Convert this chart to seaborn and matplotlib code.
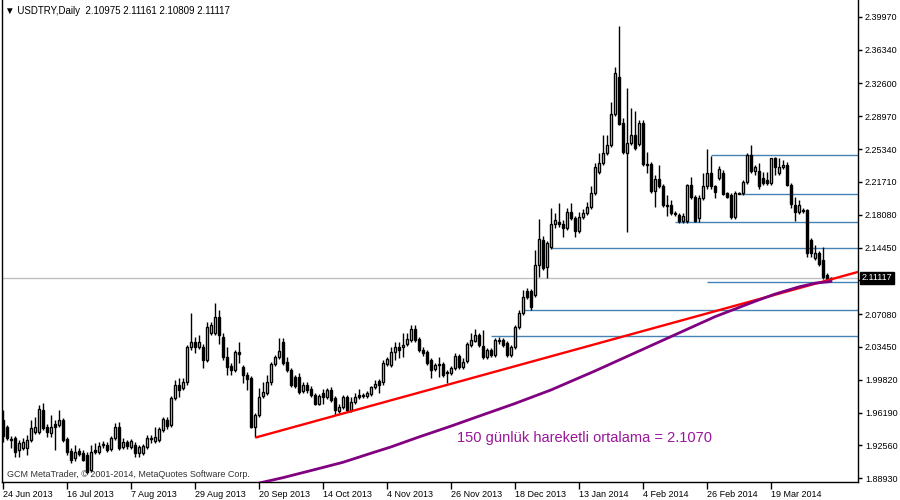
import matplotlib
matplotlib.use('Agg')
import matplotlib.pyplot as plt
import seaborn as sns
import numpy as np
import pandas as pd

sns.set_style('white')
plt.rcParams['font.family'] = ['Liberation Sans', 'DejaVu Sans']

# daily USDTRY candles, 24 Jun 2013 -> early Apr 2014
opens = [1.954, 1.946, 1.933, 1.934, 1.921, 1.923, 1.923, 1.932, 1.940, 1.940,
         1.965, 1.946, 1.939, 1.949, 1.948, 1.954, 1.933, 1.919, 1.912, 1.919,
         1.917, 1.915, 1.898, 1.921, 1.918, 1.926, 1.926, 1.922, 1.934, 1.946,
         1.924, 1.929, 1.924, 1.926, 1.917, 1.917, 1.924, 1.933, 1.930, 1.932,
         1.943, 1.954, 1.948, 1.978, 1.992, 1.989, 1.996, 2.035, 2.040, 2.035,
         2.035, 2.020, 2.050, 2.050, 2.068, 2.046, 2.023, 2.013, 2.009, 2.029,
         2.012, 2.004, 2.000, 1.946, 1.959, 1.980, 1.984, 1.996, 2.016, 2.023,
         2.040, 2.018, 2.009, 2.001, 2.001, 1.986, 1.992, 1.988, 1.981, 1.972,
         1.984, 1.979, 1.987, 1.978, 1.964, 1.968, 1.979, 1.965, 1.974, 1.981,
         1.981, 1.980, 1.982, 1.990, 1.997, 1.996, 2.016, 2.015, 2.029, 2.035,
         2.035, 2.038, 2.042, 2.054, 2.043, 2.031, 2.029, 2.020, 2.010, 2.015,
         2.016, 2.007, 2.006, 2.011, 2.025, 2.012, 2.019, 2.037, 2.041, 2.048,
         2.036, 2.023, 2.031, 2.026, 2.041, 2.042, 2.039, 2.026, 2.034, 2.057,
         2.072, 2.096, 2.096, 2.092, 2.125, 2.153, 2.123, 2.145, 2.171, 2.173,
         2.171, 2.166, 2.184, 2.177, 2.163, 2.178, 2.183, 2.189, 2.205, 2.228,
         2.238, 2.249, 2.258, 2.292, 2.333, 2.282, 2.249, 2.260, 2.269, 2.259,
         2.282, 2.237, 2.237, 2.207, 2.220, 2.213, 2.192, 2.192, 2.183, 2.181,
         2.174, 2.174, 2.214, 2.200, 2.177, 2.199, 2.212, 2.227, 2.212, 2.221,
         2.227, 2.205, 2.203, 2.178, 2.205, 2.205, 2.217, 2.247, 2.229, 2.229,
         2.221, 2.219, 2.216, 2.243, 2.227, 2.234, 2.236, 2.214, 2.192, 2.184,
         2.186, 2.186, 2.153, 2.133, 2.138, 2.131, 2.114, 2.10975]
highs = [1.965, 1.948, 1.936, 1.936, 1.932, 1.934, 1.937, 1.954, 1.957, 1.970,
         1.973, 1.949, 1.959, 1.954, 1.965, 1.956, 1.935, 1.923, 1.926, 1.923,
         1.921, 1.918, 1.926, 1.928, 1.929, 1.930, 1.929, 1.936, 1.950, 1.951,
         1.934, 1.932, 1.933, 1.929, 1.926, 1.927, 1.937, 1.937, 1.946, 1.946,
         1.957, 1.957, 1.980, 1.998, 2.000, 2.000, 2.037, 2.072, 2.046, 2.048,
         2.038, 2.062, 2.062, 2.083, 2.075, 2.050, 2.034, 2.017, 2.031, 2.040,
         2.015, 2.007, 2.002, 1.961, 1.989, 1.996, 2.004, 2.018, 2.026, 2.044,
         2.044, 2.023, 2.011, 2.004, 2.006, 1.996, 1.996, 1.991, 1.984, 1.982,
         1.988, 1.989, 1.990, 1.980, 1.972, 1.981, 1.981, 1.979, 1.984, 1.988,
         1.984, 1.986, 1.991, 1.998, 1.999, 2.020, 2.023, 2.034, 2.040, 2.040,
         2.050, 2.050, 2.059, 2.059, 2.046, 2.034, 2.031, 2.022, 2.017, 2.023,
         2.018, 2.009, 2.013, 2.028, 2.027, 2.022, 2.040, 2.050, 2.054, 2.050,
         2.053, 2.033, 2.033, 2.044, 2.046, 2.044, 2.041, 2.037, 2.059, 2.075,
         2.098, 2.100, 2.099, 2.142, 2.176, 2.157, 2.152, 2.188, 2.183, 2.194,
         2.175, 2.188, 2.194, 2.179, 2.184, 2.187, 2.195, 2.212, 2.238, 2.249,
         2.269, 2.269, 2.305, 2.344, 2.390, 2.288, 2.321, 2.299, 2.295, 2.286,
         2.285, 2.250, 2.239, 2.225, 2.236, 2.215, 2.203, 2.197, 2.185, 2.183,
         2.183, 2.215, 2.223, 2.203, 2.203, 2.227, 2.253, 2.246, 2.214, 2.235,
         2.230, 2.206, 2.205, 2.207, 2.206, 2.219, 2.249, 2.258, 2.236, 2.238,
         2.228, 2.228, 2.244, 2.245, 2.244, 2.241, 2.239, 2.216, 2.200, 2.197,
         2.188, 2.187, 2.155, 2.147, 2.141, 2.145, 2.116, 2.11161]
lows = [1.929, 1.932, 1.923, 1.913, 1.913, 1.921, 1.915, 1.929, 1.938, 1.938,
        1.943, 1.935, 1.935, 1.921, 1.946, 1.929, 1.915, 1.906, 1.908, 1.914,
        1.908, 1.894, 1.896, 1.916, 1.916, 1.923, 1.918, 1.919, 1.932, 1.921,
        1.922, 1.922, 1.922, 1.913, 1.913, 1.915, 1.922, 1.928, 1.928, 1.929,
        1.940, 1.944, 1.946, 1.976, 1.979, 1.987, 1.993, 2.031, 2.028, 2.032,
        2.011, 2.018, 2.048, 2.048, 2.038, 2.020, 2.004, 2.004, 2.007, 2.017,
        1.995, 1.987, 1.945, 1.935, 1.957, 1.978, 1.981, 1.993, 2.013, 2.021,
        2.015, 2.007, 1.990, 1.989, 1.982, 1.984, 1.984, 1.979, 1.970, 1.970,
        1.972, 1.977, 1.974, 1.959, 1.961, 1.966, 1.963, 1.963, 1.971, 1.977,
        1.978, 1.978, 1.980, 1.988, 1.984, 1.993, 2.013, 2.012, 2.020, 2.022,
        2.023, 2.036, 2.040, 2.040, 2.029, 2.024, 2.015, 2.000, 2.008, 2.001,
        2.001, 1.995, 2.004, 2.009, 2.010, 2.010, 2.017, 2.034, 2.040, 2.034,
        2.021, 2.021, 2.023, 2.023, 2.038, 2.034, 2.023, 2.023, 2.032, 2.054,
        2.070, 2.088, 2.075, 2.090, 2.112, 2.120, 2.111, 2.143, 2.166, 2.167,
        2.156, 2.164, 2.175, 2.156, 2.161, 2.176, 2.181, 2.187, 2.203, 2.226,
        2.236, 2.247, 2.256, 2.290, 2.280, 2.248, 2.162, 2.258, 2.252, 2.257,
        2.235, 2.227, 2.205, 2.189, 2.210, 2.189, 2.179, 2.181, 2.179, 2.172,
        2.172, 2.172, 2.198, 2.173, 2.173, 2.197, 2.209, 2.209, 2.199, 2.219,
        2.203, 2.199, 2.176, 2.176, 2.204, 2.203, 2.215, 2.227, 2.225, 2.209,
        2.214, 2.214, 2.214, 2.225, 2.225, 2.231, 2.212, 2.188, 2.174, 2.182,
        2.183, 2.134, 2.134, 2.131, 2.124, 2.110, 2.106, 2.10809]
closes = [1.936, 1.934, 1.932, 1.918, 1.928, 1.929, 1.932, 1.945, 1.946, 1.966,
          1.945, 1.940, 1.946, 1.946, 1.954, 1.932, 1.918, 1.909, 1.918, 1.916,
          1.909, 1.896, 1.918, 1.918, 1.925, 1.927, 1.921, 1.934, 1.946, 1.923,
          1.929, 1.925, 1.930, 1.917, 1.924, 1.925, 1.934, 1.934, 1.935, 1.944,
          1.955, 1.947, 1.978, 1.992, 1.987, 1.996, 2.035, 2.040, 2.035, 2.040,
          2.020, 2.057, 2.059, 2.068, 2.048, 2.023, 2.012, 2.009, 2.029, 2.027,
          2.004, 1.999, 1.946, 1.959, 1.979, 1.985, 1.996, 2.016, 2.023, 2.030,
          2.017, 2.009, 1.992, 1.991, 1.985, 1.992, 1.987, 1.981, 1.972, 1.980,
          1.979, 1.987, 1.976, 1.965, 1.968, 1.979, 1.965, 1.974, 1.979, 1.979,
          1.980, 1.984, 1.990, 1.994, 1.992, 2.017, 2.021, 2.029, 2.035, 2.031,
          2.037, 2.043, 2.054, 2.042, 2.031, 2.028, 2.017, 2.009, 2.015, 2.016,
          2.004, 2.006, 2.011, 2.025, 2.012, 2.018, 2.038, 2.042, 2.048, 2.037,
          2.023, 2.031, 2.026, 2.042, 2.042, 2.037, 2.026, 2.034, 2.057, 2.072,
          2.090, 2.090, 2.079, 2.125, 2.154, 2.122, 2.150, 2.171, 2.175, 2.170,
          2.166, 2.184, 2.177, 2.163, 2.178, 2.183, 2.189, 2.205, 2.233, 2.238,
          2.249, 2.258, 2.292, 2.337, 2.281, 2.250, 2.260, 2.269, 2.255, 2.282,
          2.237, 2.236, 2.207, 2.220, 2.213, 2.192, 2.190, 2.183, 2.182, 2.174,
          2.179, 2.214, 2.200, 2.174, 2.199, 2.212, 2.227, 2.212, 2.206, 2.231,
          2.204, 2.200, 2.178, 2.205, 2.204, 2.217, 2.247, 2.229, 2.234, 2.212,
          2.216, 2.216, 2.243, 2.234, 2.234, 2.236, 2.214, 2.193, 2.184, 2.191,
          2.185, 2.138, 2.138, 2.138, 2.126, 2.112, 2.110, 2.11117]

tick_labels = ['24 Jun 2013', '16 Jul 2013', '7 Aug 2013', '29 Aug 2013', '20 Sep 2013',
               '14 Oct 2013', '4 Nov 2013', '26 Nov 2013', '18 Dec 2013', '13 Jan 2014',
               '4 Feb 2014', '26 Feb 2014', '19 Mar 2014']
tick_step = 16
# 2.10820 sits under the current price box, so only its tick mark shows
price_ticks = [2.39970, 2.36340, 2.32600, 2.28970, 2.25340, 2.21710, 2.18080, 2.14450,
               2.10820, 2.07080, 2.03450, 1.99820, 1.96190, 1.92560, 1.88930]
hidden_tick = 2.10820

# 150 day moving average (at some bars)
ma_idx = [64, 70, 78, 85, 92, 97, 104, 112, 119, 128, 137, 148, 157, 164, 170,
          178, 188, 193, 199, 203, 207]
ma_vals = [1.884, 1.890, 1.899, 1.907, 1.917, 1.924, 1.935, 1.947, 1.958, 1.972,
           1.987, 2.008, 2.026, 2.040, 2.052, 2.068, 2.085, 2.093, 2.101, 2.105, 2.107]

# support trend line
trend_idx = [63.25, 213.75]
trend_vals = [1.9345, 2.1175]

# horizontal levels and the bar where each starts
levels = [2.2470, 2.2038, 2.1725, 2.1437, 2.1061, 2.0751, 2.0467]
level_start = [177, 184, 168, 137, 176, 130, 122]

last_price = 2.11117
header = '\u25bc USDTRY,Daily  2.10975 2.11161 2.10809 2.11117'
note = '150 günlük hareketli ortalama = 2.1070'
copyright_txt = 'GCM MetaTrader, \u00a9 2001-2014, MetaQuotes Software Corp.'

df = pd.DataFrame({'open': opens, 'high': highs, 'low': lows, 'close': closes})
df['idx'] = np.arange(len(df))
up = df['close'] >= df['open']

fig = plt.figure(figsize=(9, 5), dpi=100)
ax = fig.add_axes([2 / 900, 18 / 500, 856 / 900, 482 / 500])
x_right = 213.75

ax.axhline(last_price, color='#c0c0c0', lw=1, zorder=1)
ax.hlines(levels, level_start, x_right, color='#4682b4', lw=1, zorder=1)

# candles
ax.vlines(df['idx'], df['low'], df['high'], color='black', lw=1, zorder=2)
body = (df['close'] - df['open']).abs().clip(lower=0.0003)
ax.bar(df['idx'], body, bottom=df[['open', 'close']].min(axis=1), width=0.5,
       color=np.where(up, 'white', 'black'), edgecolor='black', linewidth=1, zorder=3)

sns.lineplot(x=trend_idx, y=trend_vals, color='#ff0000', lw=1.7, ax=ax, zorder=4)
sns.lineplot(x=ma_idx, y=ma_vals, color='#800080', lw=2.0, ax=ax, zorder=4)

ax.set_xlim(-0.25, x_right)
ax.set_ylim(1.8852, 2.4182)

for side in ['left', 'bottom', 'right']:
    ax.spines[side].set_visible(True)
    ax.spines[side].set_color('black')
    ax.spines[side].set_linewidth(1)
ax.spines['top'].set_visible(False)

ax.yaxis.tick_right()
ax.set_yticks(price_ticks)
ax.set_yticklabels(['' if v == hidden_tick else '%.5f' % v for v in price_ticks])
ax.tick_params(axis='y', right=True, direction='out', length=3, width=1, pad=2,
               labelsize=6.5, colors='black')
ax.set_xticks(np.arange(len(tick_labels)) * tick_step)
ax.set_xticklabels(tick_labels, ha='left')
ax.tick_params(axis='x', bottom=True, direction='out', length=5, width=1, pad=1,
               labelsize=6.5, colors='black')
ax.set_xlabel('')
ax.set_ylabel('')
ax.grid(False)

# current price box on the price scale
ax.text(1.004, last_price, '%.5f' % last_price, transform=ax.get_yaxis_transform(),
        ha='left', va='center', fontsize=6.5, color='white', zorder=10, clip_on=False,
        bbox=dict(facecolor='black', edgecolor='black', pad=1.2))

fig.text(5 / 900, 1 - 11 / 500, header, fontsize=7, va='center', color='black')
ax.text(113.5, 1.9338, note, fontsize=10.5, color='#9b169b', va='center')
ax.text(0.006, 0.015, copyright_txt, transform=ax.transAxes, fontsize=6.5,
        color='#333333', va='center')

fig.savefig('out.png', dpi=100)
